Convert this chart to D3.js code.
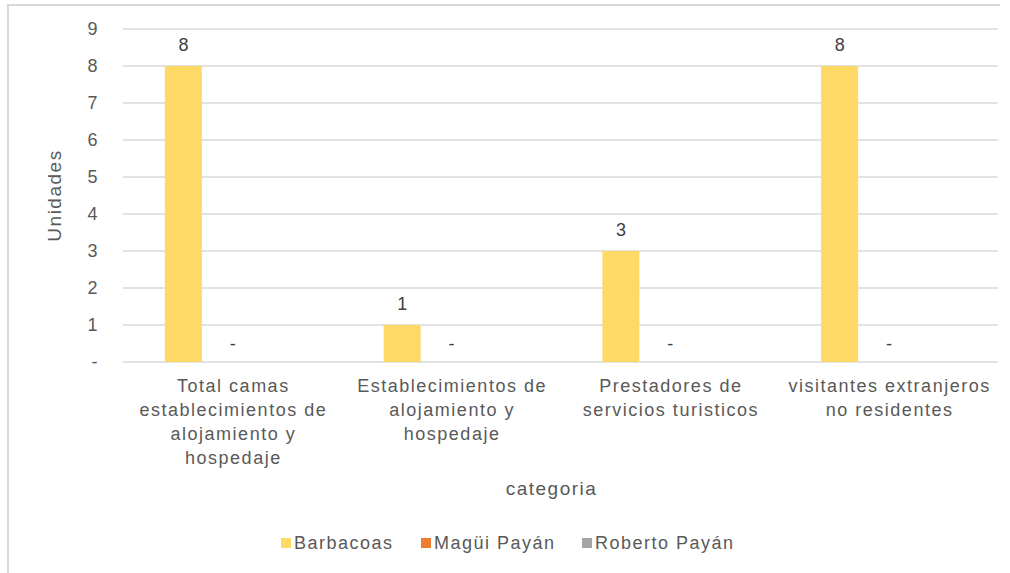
<!DOCTYPE html>
<html>
<head>
<meta charset="utf-8">
<script src="https://cdn.jsdelivr.net/npm/d3@7"></script>
<style>
  body { margin: 0; background: #fff; }
  text { font-family: "Liberation Sans", Arial, sans-serif; letter-spacing: 1.5px; }
</style>
</head>
<body>
<svg width="1010" height="573"></svg>
<script>
// data
var categories = [
  ["Total camas", "establecimientos de", "alojamiento y", "hospedaje"],
  ["Establecimientos de", "alojamiento y", "hospedaje"],
  ["Prestadores de", "servicios turisticos"],
  ["visitantes extranjeros", "no residentes"]
];
var seriesNames = ["Barbacoas", "Magüi Payán", "Roberto Payán"];
var barbacoas = [8, 1, 3, 8];
var maguiPayan = [0, 0, 0, 0];
var robertoPayan = [null, null, null, null];
var yTicks = [0, 1, 2, 3, 4, 5, 6, 7, 8, 9];
var colors = ["#ffd966", "#ed7d31", "#a5a5a5"];

var svg = d3.select("svg"),
    width = +svg.attr("width"),
    height = +svg.attr("height");

var margin = {left: 123, right: 12, top: 29, bottom: 211};

// frame (top + left only visible)
svg.append("path")
    .attr("d", "M8,573 V5 H1000")
    .attr("fill", "none")
    .attr("stroke", "#d9d9d9")
    .attr("stroke-width", 2);

var x = d3.scaleBand()
    .domain(d3.range(categories.length))
    .range([margin.left, width - margin.right]);

var y = d3.scaleLinear()
    .domain([0, 9])
    .range([height - margin.bottom, margin.top]);

var series = [barbacoas, maguiPayan, robertoPayan];
var barW = 37, step = 49;

// gridlines
svg.append("g").selectAll("line")
    .data(yTicks)
    .enter()
    .append("line")
      .attr("x1", margin.left)
      .attr("x2", width - margin.right)
      .attr("y1", function(d) { return y(d); })
      .attr("y2", function(d) { return y(d); })
      .style("stroke", "#d9d9d9")
      .style("stroke-width", 1.5);

// y axis labels
svg.append("g").selectAll("text")
    .data(yTicks)
    .enter()
    .append("text")
      .attr("x", 99)
      .attr("y", function(d) { return y(d) + 6; })
      .attr("text-anchor", "end")
      .style("font-size", "18px")
      .style("fill", "#595959")
      .text(function(d) { return d === 0 ? "-" : d; });

// bars
series.forEach(function(vals, si) {
  var g = svg.append("g");
  vals.forEach(function(v, ci) {
    if (v === null) return;
    var cx = x(ci) + x.bandwidth() / 2 + (si - 1) * step;
    if (v > 0) {
      g.append("rect")
        .attr("x", cx - barW / 2)
        .attr("width", barW)
        .attr("y", y(v))
        .attr("height", y(0) - y(v))
        .style("fill", colors[si]);
    }
    g.append("text")
      .attr("x", cx + 1)
      .attr("y", v > 0 ? y(v) - 15 : y(0.5) + 6)
      .attr("text-anchor", "middle")
      .style("font-size", "18px")
      .style("fill", "#404040")
      .text(v === 0 ? "-" : v);
  });
});

// category labels
var catG = svg.append("g");
categories.forEach(function(lines, ci) {
  var t = catG.append("text")
      .attr("text-anchor", "middle")
      .style("font-size", "18px")
      .style("fill", "#595959");
  lines.forEach(function(l, li) {
    t.append("tspan")
      .attr("x", x(ci) + x.bandwidth() / 2 + 1)
      .attr("y", 392 + li * 24)
      .text(l);
  });
});

// axis titles
svg.append("text")
    .attr("x", x.range()[0] + (x.range()[1] - x.range()[0]) / 2 - 9)
    .attr("y", 495)
    .attr("text-anchor", "middle")
    .style("font-size", "19px")
    .style("fill", "#595959")
    .text("categoria");

svg.append("text")
    .attr("transform", "translate(61," + ((y(0) + y(9)) / 2) + ") rotate(-90)")
    .attr("text-anchor", "middle")
    .style("font-size", "19px")
    .style("fill", "#595959")
    .text("Unidades");

// legend
var legendX = [281, 421, 582];
var leg = svg.append("g").selectAll("g")
    .data(seriesNames)
    .enter()
    .append("g")
      .attr("transform", function(d, i) { return "translate(" + legendX[i] + ",543)"; });
leg.append("rect")
    .attr("x", 0).attr("y", -5)
    .attr("width", 10).attr("height", 10)
    .style("fill", function(d, i) { return colors[i]; });
leg.append("text")
    .attr("x", 13)
    .attr("y", 6)
    .style("font-size", "18px")
    .style("fill", "#595959")
    .text(function(d) { return d; });
</script>
</body>
</html>
